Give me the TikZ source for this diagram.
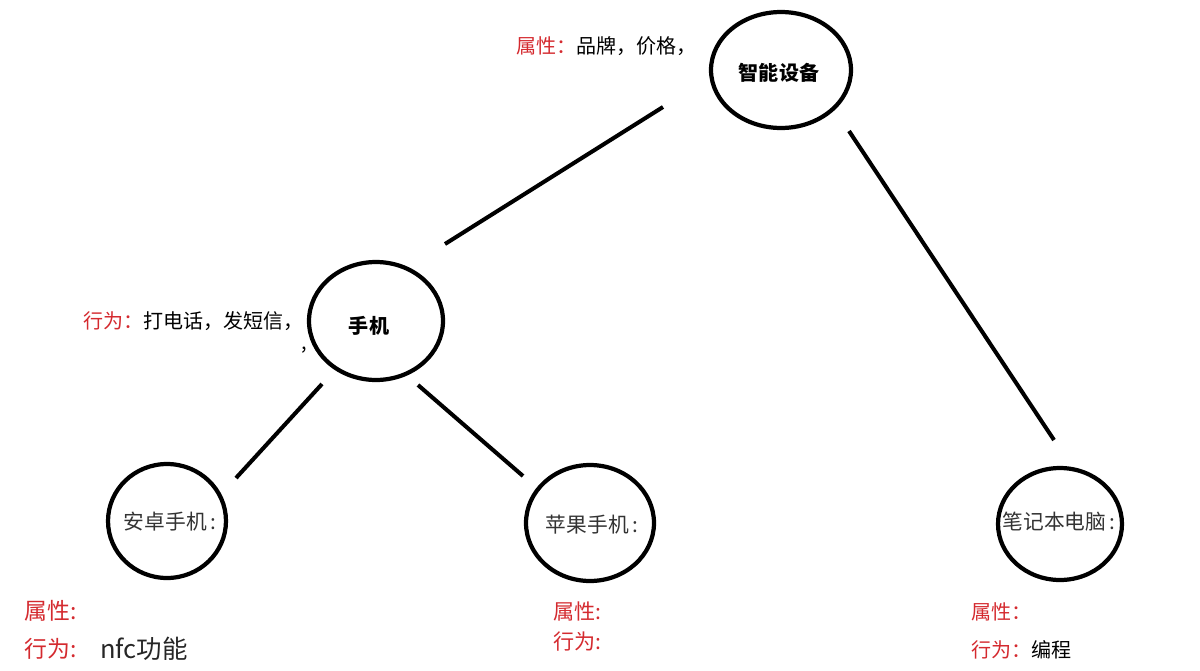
\documentclass[tikz,border=0pt]{standalone}
\usepackage{fontspec}
\newfontfamily\cjk{Noto Sans CJK SC}
\usetikzlibrary{shapes.geometric,calc}
\definecolor{lblred}{HTML}{D42A2F}
\definecolor{txtgray}{HTML}{333333}
\begin{document}
\begin{tikzpicture}[x=0.02cm,y=-0.02cm,
  circ/.style={draw=black,line width=2.4pt,ellipse,inner sep=0pt},
  conn/.style={draw=black,line width=2.3pt},
  lbl/.style={anchor=west,inner sep=0pt,font=\cjk\fontsize{11.4pt}{14pt}\selectfont,text=black},
  inlbl/.style={anchor=center,inner sep=0pt,font=\cjk\fontsize{11.8pt}{14pt}\selectfont,text=txtgray},
  boldlbl/.style={anchor=center,inner sep=0pt,font=\cjk\bfseries\fontsize{11.4pt}{14pt}\selectfont,text=black},
  blbl/.style={anchor=west,inner sep=0pt,font=\cjk\fontsize{13pt}{16pt}\selectfont,text=black},
  slbl/.style={anchor=west,inner sep=0pt,font=\cjk\fontsize{12pt}{14pt}\selectfont,text=black}]
\useasboundingbox (0,0) rectangle (1200,670);
% nodes
\node[circ,minimum width=2.8cm,minimum height=2.32cm] (top) at (781,70) {};
\node[circ,minimum width=2.68cm,minimum height=2.36cm] (phone) at (376,321) {};
\node[circ,minimum width=2.36cm,minimum height=2.28cm] (android) at (167,521) {};
\node[circ,minimum width=2.56cm,minimum height=2.32cm] (apple) at (590,523) {};
\node[circ,minimum width=2.48cm,minimum height=2.24cm] (laptop) at (1060,524) {};
% node texts
\node[boldlbl] (toptxt) at (779,73) {智能设备};
\node[boldlbl] (phonetxt) at (369,326) {手机};
\node[inlbl] (androidtxt) at (170,522) {安卓手机\,:};
\node[inlbl] (appletxt) at (592,525) {苹果手机\,:};
\node[inlbl] (laptoptxt) at (1059,522) {笔记本电脑\,:};
% connectors
\draw[conn] ($(top)+(-118,37)$) -- ($(phone)+(69,-77)$);
\draw[conn] ($(top)+(68,61)$) -- ($(laptop)+(-6,-84)$);
\draw[conn] ($(phone)+(-54,63)$) -- ($(android)+(69,-43)$);
\draw[conn] ($(phone)+(42,64)$) -- ($(apple)+(-67,-47)$);
% annotations
\node[lbl] (a1) at (516,46) {\textcolor{lblred}{属性：}品牌，价格，};
\node[lbl] (a2) at (83,321) {\textcolor{lblred}{行为：}打电话，发短信，};
\node[lbl] (a2c) at (301,350) {,};
\node[blbl] (b1) at (24,611) {\textcolor{lblred}{属性:}};
\node[blbl] (b2) at (24,649) {\textcolor{lblred}{行为:}};
\node[blbl,font=\cjk\fontsize{14.5pt}{17pt}\selectfont,text=black!85] (b2v) at (100,649) {nfc功能};
\node[slbl] (c1) at (553,611) {\textcolor{lblred}{属性:}};
\node[slbl] (c2) at (553,641) {\textcolor{lblred}{行为:}};
\node[lbl] (d1) at (971,612) {\textcolor{lblred}{属性：}};
\node[lbl] (d2) at (971,650) {\textcolor{lblred}{行为：}编程};
\end{tikzpicture}
\end{document}
